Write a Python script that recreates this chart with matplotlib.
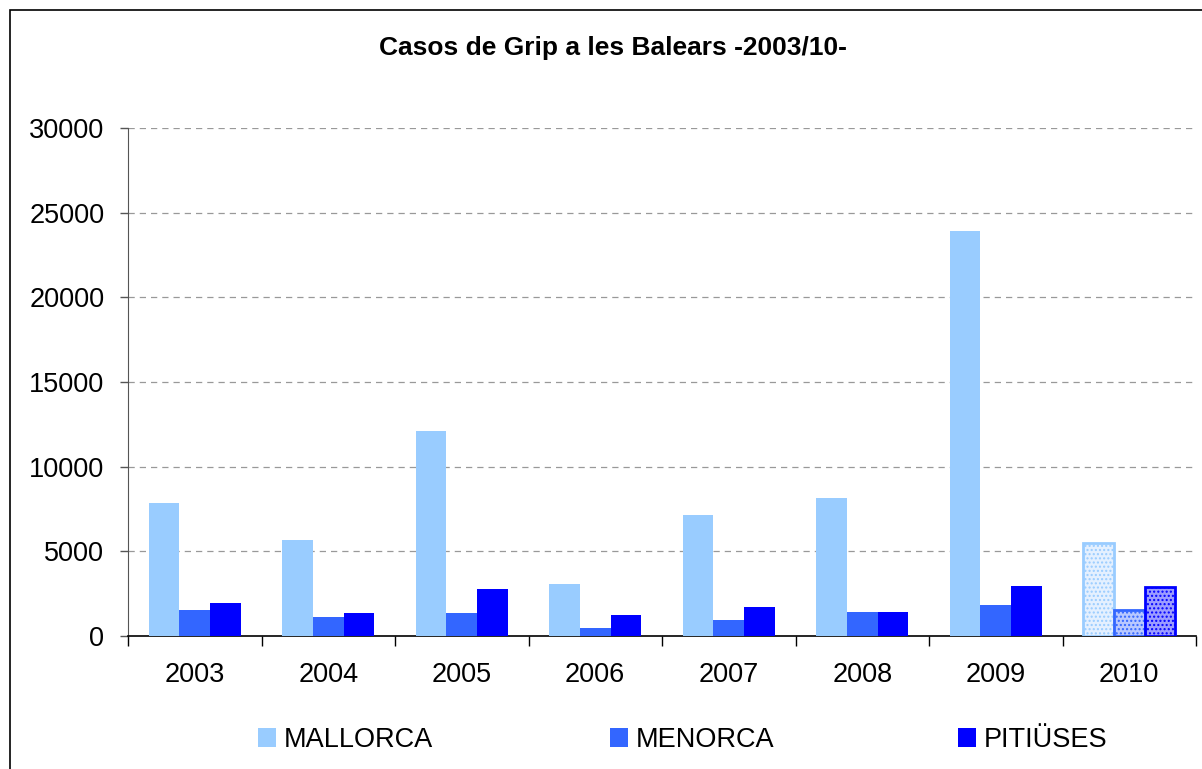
import matplotlib
matplotlib.use("Agg")
import matplotlib.pyplot as plt
from matplotlib.patches import Rectangle, Patch
import numpy as np

years = ["2003", "2004", "2005", "2006", "2007", "2008", "2009", "2010"]
series_names = ["MALLORCA", "MENORCA", "PITIÜSES"]
mallorca = [7850, 5650, 12100, 3070, 7150, 8150, 23900, 5500]
menorca = [1530, 1120, 1360, 470, 950, 1420, 1830, 1540]
pitiuses = [1950, 1360, 2780, 1240, 1710, 1420, 2950, 2900]
colors = ["#99ccff", "#3366ff", "#0000ff"]
hatch_fill = ["#e4f0ff", "#b8c8ff", "#9c9cff"]
yticks = [0, 5000, 10000, 15000, 20000, 25000, 30000]

plt.rcParams['font.family'] = ['Liberation Sans', 'DejaVu Sans']
plt.rcParams['hatch.linewidth'] = 1.0

fig = plt.figure(figsize=(12.02, 7.69), dpi=100)
W, H = 1202, 769
ax = fig.add_axes([128 / W, 1 - 636 / H, (1196 - 128) / W, (636 - 128) / H])

x = np.arange(len(years))
bw = 0.23
data = [mallorca, menorca, pitiuses]
for i, vals in enumerate(data):
    pos = x + (i - 1) * bw
    ax.bar(pos[:-1], vals[:-1], width=bw, color=colors[i], edgecolor='none', zorder=3)
    ax.bar(pos[-1:], vals[-1:], width=bw, color=hatch_fill[i], edgecolor=colors[i],
           hatch='....', linewidth=0, zorder=3)
    ax.bar(pos[-1:], vals[-1:], width=bw, facecolor='none', edgecolor=colors[i],
           linewidth=2.0, zorder=4)

ax.set_xlim(-0.5, len(years) - 0.5)
ax.set_ylim(0, 30000)
ax.set_yticks(yticks)
ax.set_yticklabels([str(v) for v in yticks], fontsize=19.5)
for v in yticks[1:]:
    ax.axhline(v, color='#999999', linestyle=(0, (5, 4)), linewidth=0.9, zorder=1)

ax.set_xticks(np.arange(-0.5, len(years)), minor=False)
ax.set_xticklabels([])
ax.set_xticks(x, minor=True)
ax.set_xticklabels(years, minor=True, fontsize=19.5)
ax.tick_params(axis='x', which='major', length=7, direction='out', color='black', width=1)
ax.tick_params(axis='x', which='minor', length=0, pad=19)
ax.tick_params(axis='y', length=6, direction='out', color='#555555', width=1, pad=11)

for s in ['top', 'right']:
    ax.spines[s].set_visible(False)
ax.spines['left'].set_color('#555555')
ax.spines['bottom'].set_color('black')
ax.spines['bottom'].set_linewidth(1.2)

fig.text(613 / W, 1 - 48 / H, "Casos de Grip a les Balears -2003/10-", ha='center', va='center',
         fontsize=19, fontweight='bold')

fig.patches.append(Rectangle((10 / W, -0.1), 1.2, 1 - 10 / H + 0.1, transform=fig.transFigure,
                             fill=False, edgecolor='black', linewidth=1.2))

leg_x = [258, 610, 958]
for i, name in enumerate(series_names):
    fig.legend(handles=[Patch(facecolor=colors[i], edgecolor='none')], labels=[name],
               loc='center left', bbox_to_anchor=(leg_x[i] / W, 1 - 740 / H),
               frameon=False, fontsize=19.5, handlelength=0.65, handleheight=0.65,
               handletextpad=0.3, borderpad=0, borderaxespad=0)

fig.savefig("out.png", dpi=100)
